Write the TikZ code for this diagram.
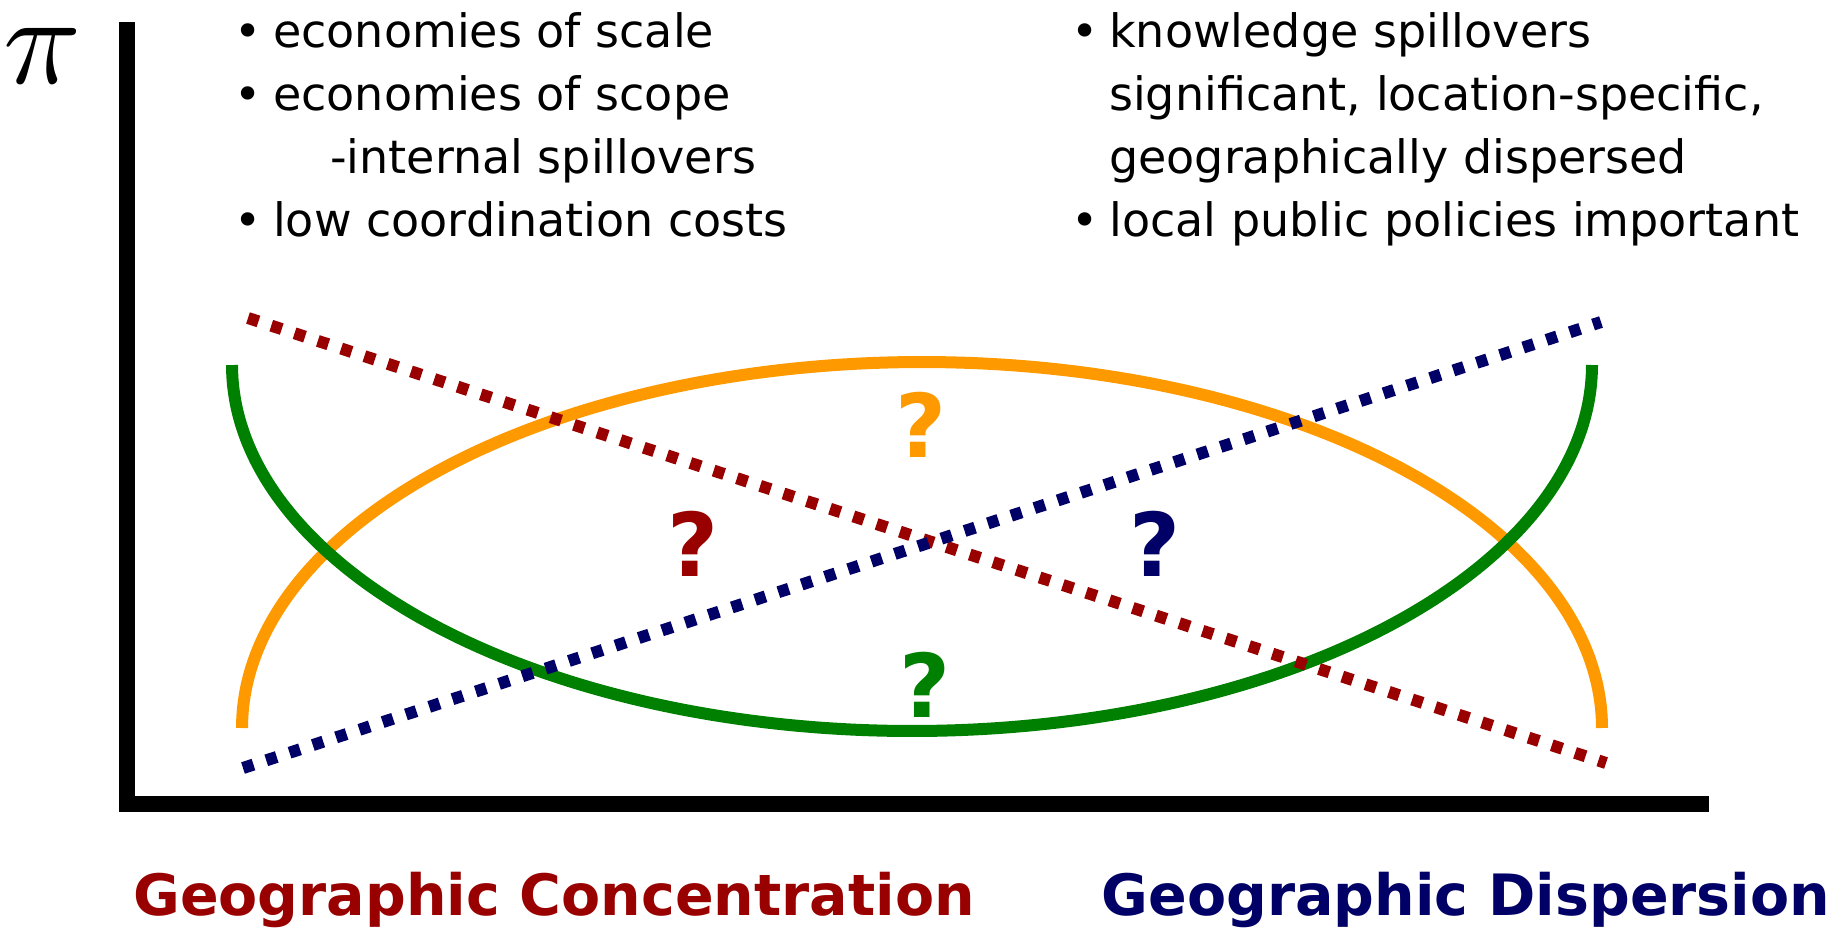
\documentclass[tikz,border=0pt]{standalone}
\usepackage{fontspec}
\setmainfont{DejaVu Sans}
\newfontfamily\qfont{DejaVu Sans Bold}
\definecolor{cOrange}{HTML}{FF9900}
\definecolor{cRed}{HTML}{990000}
\definecolor{cBlue}{HTML}{000066}
\definecolor{cGreen}{HTML}{008000}
\tikzset{
  bodytext/.style={anchor=base west, inner sep=0pt, font=\fontsize{46}{54}\selectfont},
  bul/.style={anchor=base, inner sep=0pt, font=\fontsize{46}{54}\selectfont},
  qmark/.style={inner sep=0pt, font=\qfont\fontsize{88}{96}\selectfont},
  axislabel/.style={anchor=base, inner sep=0pt, font=\qfont\fontsize{57}{66}\selectfont},
  curve/.style={line width=12pt},
  dotline/.style={line width=12pt, dash pattern=on 11pt off 13.5pt},
  axisline/.style={line width=16pt, line join=miter}
}
\begin{document}
\begin{tikzpicture}[x=1pt,y=-1pt]
\useasboundingbox (0,0) rectangle (1835,930);
% axes
\coordinate (ytop) at (127,22);
\coordinate (origin) at (127,804);
\coordinate (xend) at (1709,804);
\draw[axisline] (ytop) -- (origin) -- (xend);
\node[inner sep=0pt] (pi) at (43,56) {\resizebox{78pt}{55pt}{$\pi$}};
% ellipses
\draw[curve, cOrange] plot[domain=180:360, samples=240, smooth] ({922+680*cos(\x)}, {728+366*sin(\x)});
\draw[curve, cGreen] plot[domain=0:180, samples=240, smooth] ({912+680*cos(\x)}, {365+366*sin(\x)});
% dotted lines
\coordinate (r1) at (248,318);
\coordinate (r2) at (1606,763);
\coordinate (b1) at (243,768);
\coordinate (b2) at (1601,322);
\draw[dotline, cRed] (r1) -- (r2);
\draw[dotline, cBlue] (b1) -- (b2);
% question marks
\node[qmark, text=cOrange] (qo) at (921,425) {?};
\node[qmark, text=cRed] (qr) at (693,544) {?};
\node[qmark, text=cBlue] (qb) at (1155,544) {?};
\node[qmark, text=cGreen] (qg) at (925,685) {?};
% left bullets
\node[bul] (lb1) at (248,47) {•};
\node[bodytext] (l1) at (273,47) {economies of scale};
\node[bul] (lb2) at (248,110) {•};
\node[bodytext] (l2) at (273,110) {economies of scope};
\node[bodytext] (l3) at (330,173) {-internal spillovers};
\node[bul] (lb4) at (248,236) {•};
\node[bodytext] (l4) at (273,236) {low coordination costs};
% right bullets
\node[bul] (rb1) at (1085,47) {•};
\node[bodytext] (r1t) at (1109,47) {knowledge spillovers};
\node[bodytext] (r2t) at (1109,110) {significant, location-specific,};
\node[bodytext] (r3t) at (1109,173) {geographically dispersed};
\node[bul] (rb4) at (1085,236) {•};
\node[bodytext] (r4t) at (1109,236) {local public policies important};
% axis labels
\node[axislabel, text=cRed] (conc) at (554,915) {Geographic Concentration};
\node[axislabel, text=cBlue] (disp) at (1466,915) {Geographic Dispersion};
\end{tikzpicture}
\end{document}
